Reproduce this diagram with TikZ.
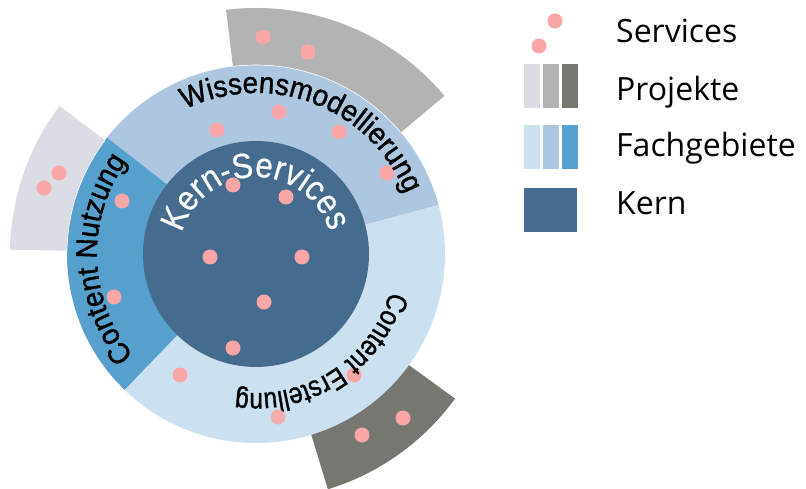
\documentclass[tikz,border=0pt]{standalone}
\usepackage{fontspec}
\newfontfamily\arialr[FakeStretch=0.93, FakeBold=1.2]{Liberation Sans}
\newfontfamily\ariale[FakeStretch=0.84, FakeBold=1.2]{Liberation Sans}
\newfontfamily\arialk[FakeStretch=0.90, FakeBold=0.5]{Liberation Sans}
\newfontfamily\legf{Open Sans}
\usetikzlibrary{decorations.text,calc}
\definecolor{kern}{HTML}{456B8F}
\definecolor{wissens}{HTML}{ADC7E1}
\definecolor{erstell}{HTML}{CCE1F0}
\definecolor{nutz}{HTML}{55A0CC}
\definecolor{projlight}{HTML}{DCDCE4}
\definecolor{projmid}{HTML}{B3B3B3}
\definecolor{projdark}{HTML}{777772}
\definecolor{dotc}{HTML}{FBA6A6}
\tikzset{
  dot/.style={fill=dotc, draw=none},
  legtext/.style={anchor=base west, inner sep=0pt, font=\legf\fontsize{32}{36}\selectfont},
  ringtext/.style={decorate, decoration={text along path, text align=center, text color=black}},
}
\newcommand{\rfont}{\arialr\fontsize{30}{32}\selectfont}
\newcommand{\efont}{\ariale\fontsize{29}{32}\selectfont}
\newcommand{\kfont}{\arialk\fontsize{35}{36}\selectfont}
\begin{document}
\begin{tikzpicture}[x=1pt,y=1pt]
\useasboundingbox (0,0) rectangle (806,488);
\fill[white] (0,0) rectangle (806,488);
\coordinate (C) at (256,234);
% Projekte sectors
\fill[projmid] (C) -- ++(40:246) arc[start angle=40, end angle=97, radius=246] -- cycle;
\fill[projlight] (C) -- ++(143:246) arc[start angle=143, end angle=179, radius=246] -- cycle;
\fill[projdark] (C) -- ++(-73:246) arc[start angle=-73, end angle=-36, radius=246] -- cycle;
% Fachgebiete ring
\fill[wissens] (C) -- ++(15:189) arc[start angle=15, end angle=142, radius=189] -- cycle;
\fill[nutz] (C) -- ++(142:189) arc[start angle=142, end angle=226, radius=189] -- cycle;
\fill[erstell] (C) -- ++(226:189) arc[start angle=226, end angle=375, radius=189] -- cycle;
\draw[white, line width=0.6pt] (C) ++(40:189) arc[start angle=40, end angle=97, radius=189];
\draw[white, line width=0.6pt] (C) ++(143:189) arc[start angle=143, end angle=179, radius=189];
% Kern
\fill[kern] (C) circle[radius=113];
% dots
\foreach \p in {(263,451),(308,436),(59,315),(44,300),(362,53),(403,70),
  (217,358),(279,376),(339,356),(387,315),(122,287),(114,191),
  (180,113),(354,113),
  (233,303),(286,291),(210,231),(302,231),(264,186),(233,140)}
  \fill[dot] \p circle[radius=7.5];
% curved texts
\path[ringtext, decoration={text={|\rfont|Wissensmodellierung}}] (C) ++(159:161) arc[start angle=159, end angle=-21, radius=161];
\path[ringtext, decoration={text={|\rfont|Content Nutzung}}] (C) ++(272:159) arc[start angle=272, end angle=92, radius=159];
\path[ringtext, decoration={text={|\efont|Content Erstellung}}] (C) ++(33:139) arc[start angle=33, end angle=-147, radius=139];
\path[ringtext, decoration={text color=white, text={|\kfont|Kern-Services}}] (C) ++(180.5:77) arc[start angle=180.5, end angle=0.5, radius=77];
\fill[dot, opacity=0.85] (278,71) circle[radius=7.5];
% legend
\fill[dot] (555,467) circle[radius=7.5];
\fill[dot] (539,442) circle[radius=7.5];
\fill[projlight] (524,380) rectangle (540,424);
\fill[projmid] (543,380) rectangle (559,424);
\fill[projdark] (562,380) rectangle (578,424);
\fill[erstell] (524,319) rectangle (540,363);
\fill[wissens] (543,319) rectangle (559,363);
\fill[nutz] (562,319) rectangle (578,363);
\fill[kern] (524,256) rectangle (577,300);
\node[legtext] (lserv) at (616,445) {Services};
\node[legtext] (lproj) at (616,387) {Projekte};
\node[legtext] (lfach) at (616,331) {Fachgebiete};
\node[legtext] (lkern) at (616,273) {Kern};
\end{tikzpicture}
\end{document}
